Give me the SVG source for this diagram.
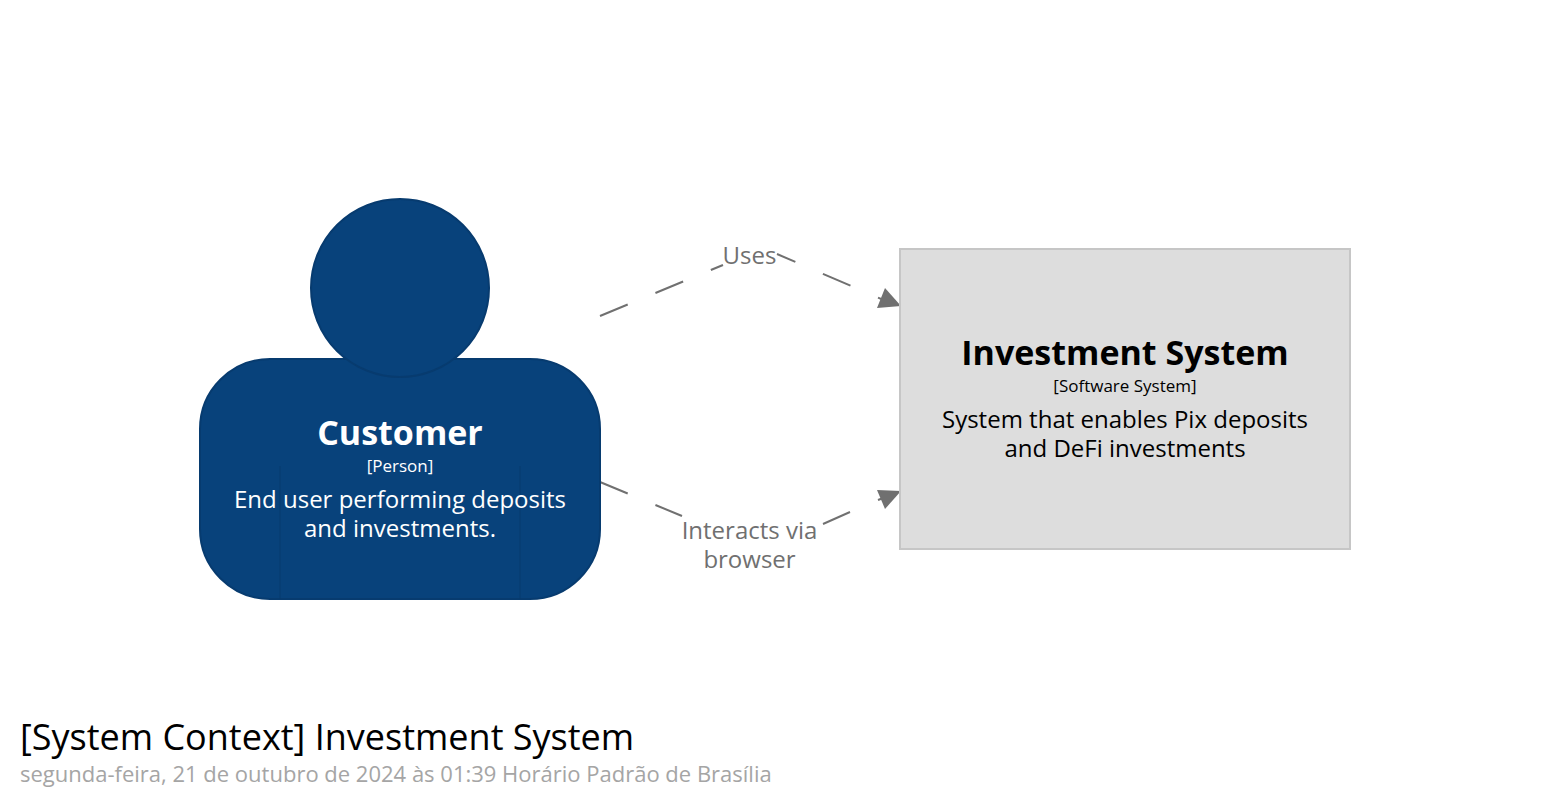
<svg xmlns="http://www.w3.org/2000/svg" width="1550" height="800" viewBox="0 0 1550 800">
<style>
text{font-family:"Open Sans","Noto Sans",sans-serif}
.c{text-anchor:middle}
.conn{fill:none;stroke:#707070;stroke-width:2;stroke-dasharray:30 30}
.solid{stroke-dasharray:none}
.head{fill:#707070}
.lab{font-size:24px;fill:#707070}
.name{font-size:34px;font-weight:700}
.meta{font-size:17px}
.desc{font-size:24px}
</style>
<rect width="1550" height="800" fill="#fff"/>
<g id="connectors">
<path class="conn" d="M600 316L723 265"/>
<path class="conn" stroke-dashoffset="10" d="M777 254L886 301"/>
<path class="conn" d="M600 482L682 516"/>
<path class="conn solid" d="M850 512L823 524"/>
<path class="conn solid" d="M878 500L886 497"/>
<path class="head" d="M901 306L877 308L885 288Z"/>
<path class="head" d="M901 491L885 509L877 490Z"/>
<text class="lab c" x="749.500" y="264">Uses</text>
<text class="lab c" x="749.500" y="539">Interacts via</text>
<text class="lab c" x="749.500" y="568">browser</text>
</g>
<g id="customer">
<rect x="200" y="359" width="400" height="240" rx="70" fill="#08427b" stroke="#073b6f" stroke-width="2"/>
<circle cx="400" cy="288" r="89" fill="#08427b" stroke="#073b6f" stroke-width="2"/>
<path d="M280 466V599M520 466V599" stroke="#073b6f" stroke-width="1" fill="none"/>
<text class="name c" x="400" y="445" fill="#fff">Customer</text>
<text class="meta c" x="400" y="472" fill="#fff">[Person]</text>
<text class="desc c" x="400" y="508" fill="#fff">End user performing deposits</text>
<text class="desc c" x="400" y="537" fill="#fff">and investments.</text>
</g>
<g id="investment-system">
<rect x="900" y="249" width="450" height="300" fill="#ddd" stroke="#c6c6c6" stroke-width="2"/>
<text class="name c" x="1125" y="365">Investment System</text>
<text class="meta c" x="1125" y="392">[Software System]</text>
<text class="desc c" x="1125" y="428">System that enables Pix deposits</text>
<text class="desc c" x="1125" y="457">and DeFi investments</text>
</g>
<g id="title">
<text x="20" y="750" font-size="36">[System Context] Investment System</text>
<text x="20" y="782" font-size="22" fill="#a5a5a5">segunda-feira, 21 de outubro de 2024 às 01:39 Horário Padrão de Brasília</text>
</g>
</svg>
